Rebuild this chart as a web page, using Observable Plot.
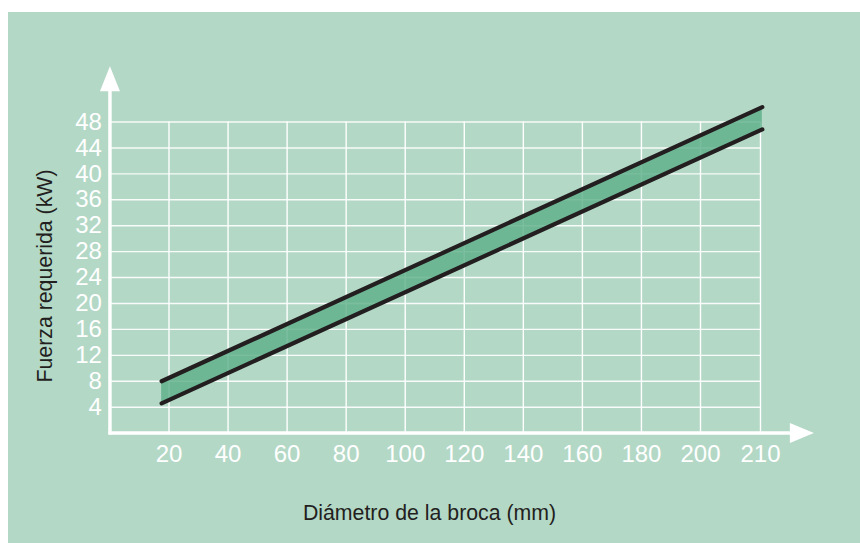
<!DOCTYPE html>
<html><head><meta charset="utf-8">
<script src="https://cdn.jsdelivr.net/npm/d3@7"></script>
<script src="https://cdn.jsdelivr.net/npm/@observablehq/plot@0.6"></script>
<style>
html,body{margin:0;padding:0;background:#fff;}
#panel{position:absolute;left:8px;top:12px;width:852px;height:531px;background:#b4d8c6;}
#chart{position:absolute;left:0;top:0;}
</style></head><body><div id="panel"></div><div id="chart"></div>
<script>
// Tick labels
const xTicks = [20, 40, 60, 80, 100, 120, 140, 160, 180, 200, 210];
const yTicks = [4, 8, 12, 16, 20, 24, 28, 32, 36, 40, 44, 48];
// Band endpoints (diameter in mm, force in kW)
const diameter = [17.5, 210.3];
const upperForce = [8.0, 50.3];
const lowerForce = [4.6, 46.85];
// Titles
const xTitle = "Diámetro de la broca (mm)";
const yTitle = "Fuerza requerida (kW)";

const band = diameter.map((d, i) => ({d, lo: lowerForce[i], hi: upperForce[i]}));

const upArrow = {draw(ctx) { ctx.moveTo(0, 0); ctx.lineTo(10, 25); ctx.lineTo(-10, 25); ctx.closePath(); }};
const rightArrow = {draw(ctx) { ctx.moveTo(0, 0); ctx.lineTo(-24, -10); ctx.lineTo(-24, 10); ctx.closePath(); }};

const font = "'Liberation Sans', Arial, Helvetica, sans-serif";
const chart = Plot.plot({
  width: 860,
  height: 543,
  marginTop: 0, marginRight: 0, marginBottom: 0, marginLeft: 0,
  style: {background: "transparent", fontFamily: font},
  x: {type: "linear", domain: [20, 200, 210], range: [168.5, 700, 760], axis: null},
  y: {type: "linear", domain: [0, 48], range: [432.6, 121.5], axis: null},
  marks: [
    Plot.ruleX(xTicks, {x: d => d, y1: () => 0, y2: () => 48, stroke: "white", strokeWidth: 1.4}),
    Plot.ruleY(yTicks, {y: d => d, x1: () => 0, x2: () => 210, stroke: "white", strokeWidth: 1.4, strokeOpacity: 0.9}),
    Plot.areaY(band, {x: "d", y1: "lo", y2: "hi", fill: "#5eb08a", fillOpacity: 0.82}),
    Plot.lineY(band, {x: "d", y: "hi", stroke: "#231f20", strokeWidth: 4.2}),
    Plot.lineY(band, {x: "d", y: "lo", stroke: "#231f20", strokeWidth: 4.2}),
    Plot.ruleX([0], {x: d => d, y1: () => -0.3, y2: () => 54, stroke: "white", strokeWidth: 3.5}),
    Plot.ruleY([0], {y: d => d, x1: () => -0.3, x2: () => 216, stroke: "white", strokeWidth: 3.5}),
    Plot.dot([0], {x: () => 0, y: () => 56.6, symbol: upArrow, fill: "white", stroke: "none"}),
    Plot.dot([0], {x: () => 218.9, y: () => 0, symbol: rightArrow, fill: "white", stroke: "none"}),
    Plot.text(xTicks, {x: d => d, y: () => 0, text: d => String(d), dy: 21, fill: "white", fontSize: 24, lineAnchor: "middle", textAnchor: "middle"}),
    Plot.text(yTicks, {x: () => 0, y: d => d, text: d => String(d), dx: -8, fill: "white", fontSize: 24, lineAnchor: "middle", textAnchor: "end"}),
    Plot.text([xTitle], {frameAnchor: "top-left", dx: 429, dy: 513, text: d => d, fill: "#231f20", fontSize: 21.3, lineAnchor: "middle", textAnchor: "middle"}),
    Plot.text([yTitle], {frameAnchor: "top-left", dx: 45, dy: 275.5, text: d => d, fill: "#231f20", fontSize: 21.3, lineAnchor: "middle", textAnchor: "middle", rotate: -90})
  ]
});
document.getElementById("chart").append(chart);
</script></body></html>
